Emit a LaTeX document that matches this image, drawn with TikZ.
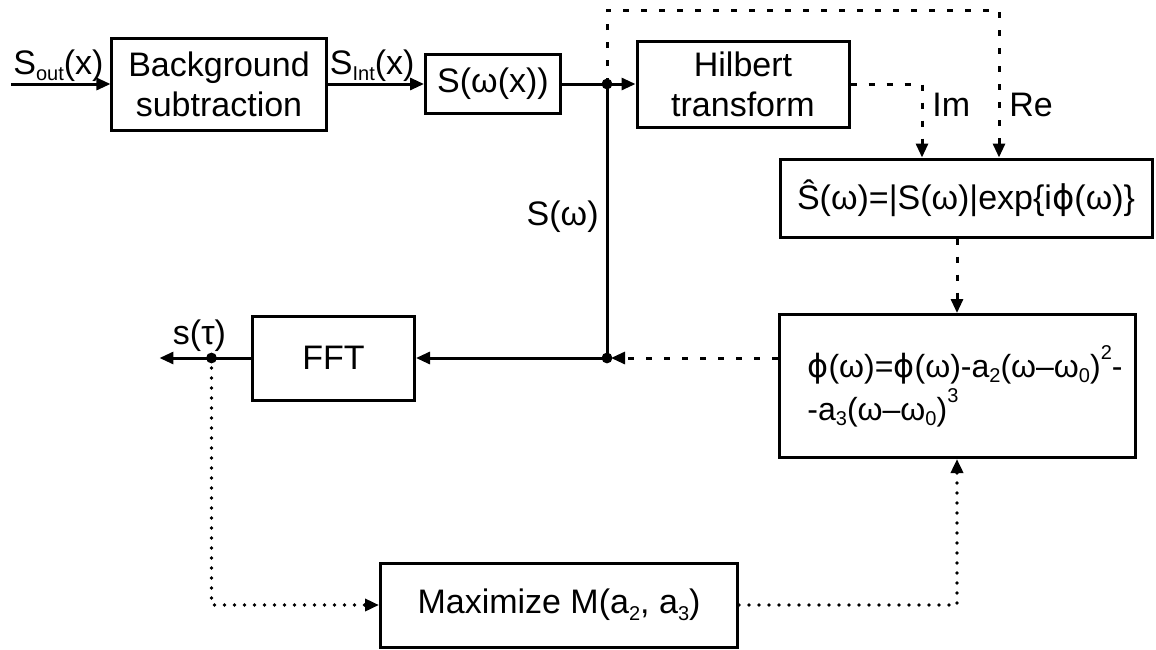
\documentclass[tikz,border=0pt]{standalone}
\usepackage{fontspec}
\setmainfont{Liberation Sans}
\newfontfamily\phifont{DejaVu Sans}
\usetikzlibrary{positioning,arrows.meta}
\newcommand{\lowtxt}[1]{\raisebox{-0.35ex}{\fontsize{10}{10}\selectfont #1}}
\newcommand{\hightxt}[1]{\raisebox{1.05ex}{\fontsize{10}{10}\selectfont #1}}
\newcommand{\phig}{{\phifont ϕ}}
\tikzset{
  every node/.style={font=\fontsize{17}{20}\selectfont},
  blk/.style={draw, line width=1.5pt, inner sep=2pt, align=center},
  lbl/.style={inner sep=1pt},
  sig/.style={line width=1.5pt},
  dsh/.style={line width=1.5pt, dash pattern=on 3pt off 6pt},
  dts/.style={line width=1.8pt, line cap=round, dash pattern=on 0pt off 5pt}
}

\begin{document}
\begin{tikzpicture}[>={Triangle[length=7pt,width=6pt]}]
      \useasboundingbox (-109.5pt,42pt) rectangle (468.5pt,-282.5pt);
      \node [blk, minimum width=107pt, minimum height=46pt] (Bg) {Background\\subtraction};
      \node [blk, on grid, right=137pt of Bg, minimum width=67.5pt, minimum height=29.5pt] (Sw) {S(ω(x))};
      \node [blk, on grid, right=125pt of Sw, minimum width=106pt, minimum height=43pt] (Hil) {Hilbert\\transform};
      \node [blk, on grid, below right=57pt and 111.5pt of Hil, minimum width=186pt, minimum height=39pt] (Sh)
      {Ŝ(ω)=|S(ω)|exp\{i\phig(ω)\}};
      \node [blk, on grid, below left=94pt and 4.5pt of Sh, minimum width=178pt, minimum height=71.5pt, align=left,
      font=\fontsize{16}{21.5}\selectfont] (Ph)
      {\hspace*{8pt}\phig(ω)=\phig(ω)-a\lowtxt{2}(ω–ω\lowtxt{0})\hightxt{2}-\\\hspace*{8pt}-a\lowtxt{3}(ω–ω\lowtxt{0})\hightxt{3}};
      \coordinate [on grid, right=57pt of Sw] (J1);
      \coordinate [on grid, below=137pt of J1] (J2);
      \node [blk, on grid, left=95.5pt of J2, minimum width=81pt, minimum height=42pt] (FFT) {FFT};
      \node [blk, on grid, below right=123.5pt and 112.75pt of FFT, minimum width=178.5pt, minimum height=42pt] (Max)
      {Maximize M(a\lowtxt{2}, a\lowtxt{3})};
      \coordinate [on grid, left=61pt of FFT] (J3);
      \coordinate [on grid, left=26pt of J3] (Out);
      \coordinate [on grid, left=104pt of Bg] (In);
      \coordinate [on grid, above=37pt of J1] (TL);
      \coordinate (ImIn) at ([xshift=-22pt]Sh.north);
      \coordinate (ReIn) at ([xshift=16.5pt]Sh.north);

      \draw [sig,->] (In) -- (Bg);
      \draw [sig,->] (Bg) -- (Sw);
      \draw [sig,->] (Sw) -- (Hil);
      \draw [sig] (J1) -- (J2);
      \draw [sig,->] (J2) -- (FFT);
      \draw [sig,->] (FFT) -- (Out);
      \draw [dsh,->] (J1) -- (TL) -| (ReIn);
      \draw [dsh,->] (Hil) -| (ImIn);
      \draw [dsh,->] (Sh.south -| Ph.north) -- (Ph);
      \draw [dsh,->,shorten >=2pt] (Ph.west |- J2) -- (J2);
      \draw [dts,->] (J3) |- (Max);
      \draw [dts,->] (Max) -| (Ph);
      \fill (J1) circle (2.7pt) (J2) circle (2.7pt) (J3) circle (2.7pt);

      \node [lbl, anchor=south west] (lSout) at (In) {S\lowtxt{out}(x)};
      \node [lbl, anchor=south west] (lSint) at (Bg.east) {S\lowtxt{Int}(x)};
      \node [lbl, anchor=east] (lSom) at ([shift={(-3pt,-66.5pt)}]J1) {S(ω)};
      \node [lbl, anchor=south, inner sep=3pt] (ltau) at ([xshift=-6pt]J3) {s(τ)};
      \node [lbl, anchor=west] (lIm) at ([shift={(4pt,26.5pt)}]ImIn) {Im};
      \node [lbl, anchor=west] (lRe) at ([shift={(4pt,26.5pt)}]ReIn) {Re};
    \end{tikzpicture}
\end{document}
